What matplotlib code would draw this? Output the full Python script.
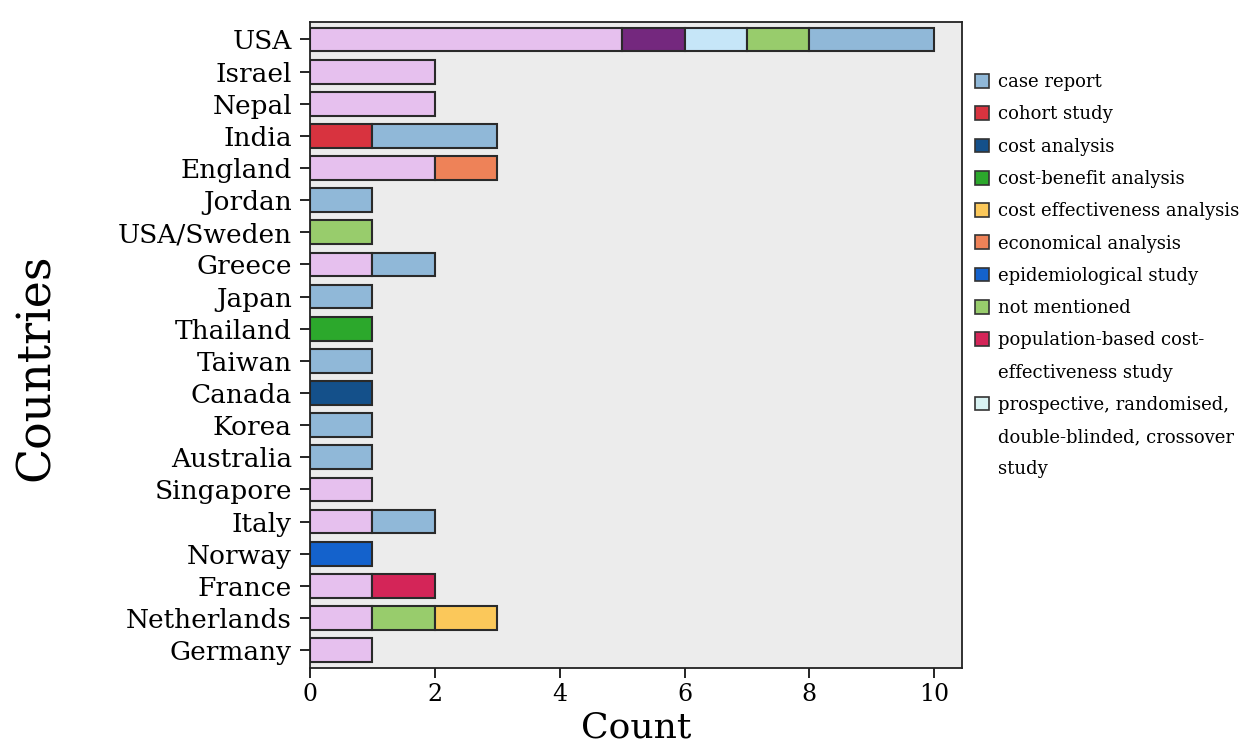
import numpy as np
import matplotlib.pyplot as plt
from matplotlib.patches import Patch

plt.rcParams['font.family'] = ['DejaVu Serif']

countries = ['USA', 'Israel', 'Nepal', 'India', 'England', 'Jordan', 'USA/Sweden',
             'Greece', 'Japan', 'Thailand', 'Taiwan', 'Canada', 'Korea', 'Australia',
             'Singapore', 'Italy', 'Norway', 'France', 'Netherlands', 'Germany']

# counts per study type, same order as countries
# (pink / purple types are not shown in the visible legend)
pink_type      = [5, 2, 2, 0, 2, 0, 0, 1, 0, 0, 0, 0, 0, 0, 1, 1, 0, 1, 1, 1]
purple_type    = [1, 0, 0, 0, 0, 0, 0, 0, 0, 0, 0, 0, 0, 0, 0, 0, 0, 0, 0, 0]
prospective    = [1, 0, 0, 0, 0, 0, 0, 0, 0, 0, 0, 0, 0, 0, 0, 0, 0, 0, 0, 0]
population     = [0, 0, 0, 0, 0, 0, 0, 0, 0, 0, 0, 0, 0, 0, 0, 0, 0, 1, 0, 0]
not_mentioned  = [1, 0, 0, 0, 0, 0, 1, 0, 0, 0, 0, 0, 0, 0, 0, 0, 0, 0, 1, 0]
epidemiol      = [0, 0, 0, 0, 0, 0, 0, 0, 0, 0, 0, 0, 0, 0, 0, 0, 1, 0, 0, 0]
economical     = [0, 0, 0, 0, 1, 0, 0, 0, 0, 0, 0, 0, 0, 0, 0, 0, 0, 0, 0, 0]
cost_eff       = [0, 0, 0, 0, 0, 0, 0, 0, 0, 0, 0, 0, 0, 0, 0, 0, 0, 0, 1, 0]
cost_benefit   = [0, 0, 0, 0, 0, 0, 0, 0, 0, 1, 0, 0, 0, 0, 0, 0, 0, 0, 0, 0]
cost_analysis  = [0, 0, 0, 0, 0, 0, 0, 0, 0, 0, 0, 1, 0, 0, 0, 0, 0, 0, 0, 0]
cohort         = [0, 0, 0, 1, 0, 0, 0, 0, 0, 0, 0, 0, 0, 0, 0, 0, 0, 0, 0, 0]
case_report    = [2, 0, 0, 2, 0, 1, 0, 1, 1, 0, 1, 0, 1, 1, 0, 1, 0, 0, 0, 0]

# legend lines; None colour = continuation line of previous entry
legend_labels = ['case report', 'cohort study', 'cost analysis', 'cost-benefit analysis',
                 'cost effectiveness analysis', 'economical analysis',
                 'epidemiological study', 'not mentioned',
                 'population-based cost-', 'effectiveness study',
                 'prospective, randomised,', 'double-blinded, crossover', 'study']
legend_colors = ['#90b8d8', '#d8333f', '#14508a', '#2ca82c', '#fbc85a', '#ee8258',
                 '#1462cc', '#98cc6c', '#d42558', None, '#d8f2f2', None, None]

# stacking order left to right
series = [pink_type, purple_type, prospective, population, not_mentioned, epidemiol,
          economical, cost_eff, cost_benefit, cost_analysis, cohort, case_report]
colors = ['#e6c0ee', '#74287e', '#c6e6f8', '#d42558', '#98cc6c', '#1462cc',
          '#ee8258', '#fbc85a', '#2ca82c', '#14508a', '#d8333f', '#90b8d8']

fig = plt.figure(figsize=(12.45, 7.52), dpi=100)
ax = fig.add_axes([0.249, 0.112, 0.524, 0.859])
ax.set_facecolor('#ececec')

y = np.arange(len(countries))
left = np.zeros(len(countries))
for vals, c in zip(series, colors):
    vals = np.array(vals, dtype=float)
    m = vals > 0
    ax.barh(y[m], vals[m], left=left[m], height=0.74, color=c,
            edgecolor='#2a2a2a', linewidth=1.5)
    left += vals

ax.set_yticks(y)
ax.set_yticklabels(countries, fontsize=19)
ax.set_ylim(len(countries) - 0.45, -0.55)
ax.set_xlim(0, 10.45)
ax.set_xticks([0, 2, 4, 6, 8, 10])
ax.tick_params(axis='x', labelsize=17, length=7, width=1.2, pad=4)
ax.tick_params(axis='y', length=7, width=1.2, pad=6)
for s in ax.spines.values():
    s.set_linewidth(1.3)
    s.set_color('#222222')

ax.set_xlabel('Count', fontsize=26, labelpad=3)
ax.set_ylabel('Countries', fontsize=33)
ax.yaxis.set_label_coords(-0.385, 0.466)

handles = []
for c in legend_colors:
    if c is None:
        handles.append(Patch(facecolor='none', edgecolor='none'))
    else:
        handles.append(Patch(facecolor=c, edgecolor='#333333', linewidth=1.2))
ax.legend(handles, legend_labels, loc='upper left', bbox_to_anchor=(1.0, 0.94),
          frameon=False, fontsize=13, handlelength=0.8, handleheight=0.8,
          handletextpad=0.45, labelspacing=0.79, borderaxespad=0.3)

fig.savefig('out.png', dpi=100)
